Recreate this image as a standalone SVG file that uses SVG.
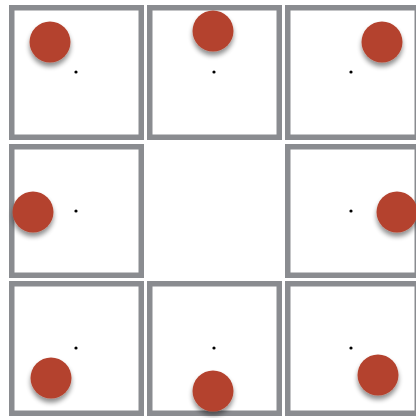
<svg xmlns="http://www.w3.org/2000/svg" width="416" height="418" viewBox="0 0 416 418">
  <style>
    .box { fill: #ffffff; stroke: #8a8c90; stroke-width: 5.5; }
    .dot { fill: #000000; }
    .ball { fill: #b4432f; filter: url(#shadow); }
  </style>
  <defs>
    <filter id="shadow" x="-50%" y="-50%" width="200%" height="200%">
      <feGaussianBlur in="SourceAlpha" stdDeviation="2.5"/>
      <feOffset dx="0" dy="4" result="b"/>
      <feComponentTransfer><feFuncA type="linear" slope="0.45"/></feComponentTransfer>
      <feMerge><feMergeNode/><feMergeNode in="SourceGraphic"/></feMerge>
    </filter>
  </defs>
  <rect width="416" height="418" fill="#ffffff"/>
  <g id="cell-top-left">
    <rect class="box" x="11.75" y="7.75" width="129.5" height="129.5"/>
    <circle class="dot" cx="76" cy="72" r="1.6"/>
    <circle class="ball" cx="50" cy="42" r="20.5"/>
  </g>
  <g id="cell-top-center">
    <rect class="box" x="149.75" y="7.75" width="129.5" height="129.5"/>
    <circle class="dot" cx="214" cy="72" r="1.6"/>
    <circle class="ball" cx="213" cy="31" r="20.5"/>
  </g>
  <g id="cell-top-right">
    <rect class="box" x="287.75" y="7.75" width="129.5" height="129.5"/>
    <circle class="dot" cx="351" cy="72" r="1.6"/>
    <circle class="ball" cx="382" cy="42" r="20.5"/>
  </g>
  <g id="cell-middle-left">
    <rect class="box" x="11.75" y="146.75" width="129.5" height="128.5"/>
    <circle class="dot" cx="76" cy="211" r="1.6"/>
    <circle class="ball" cx="33" cy="212" r="20.5"/>
  </g>
  <g id="cell-middle-right">
    <rect class="box" x="287.75" y="146.75" width="129.5" height="128.5"/>
    <circle class="dot" cx="351" cy="211" r="1.6"/>
    <circle class="ball" cx="397" cy="212" r="20.5"/>
  </g>
  <g id="cell-bottom-left">
    <rect class="box" x="11.75" y="283.75" width="129.5" height="129.5"/>
    <circle class="dot" cx="76" cy="348" r="1.6"/>
    <circle class="ball" cx="51" cy="378" r="20.5"/>
  </g>
  <g id="cell-bottom-center">
    <rect class="box" x="149.75" y="283.75" width="129.5" height="129.5"/>
    <circle class="dot" cx="214" cy="348" r="1.6"/>
    <circle class="ball" cx="213" cy="391" r="20.5"/>
  </g>
  <g id="cell-bottom-right">
    <rect class="box" x="287.75" y="283.75" width="129.5" height="129.5"/>
    <circle class="dot" cx="351" cy="348" r="1.6"/>
    <circle class="ball" cx="378" cy="375" r="20.5"/>
  </g>
  <g id="connectors"/>
</svg>
